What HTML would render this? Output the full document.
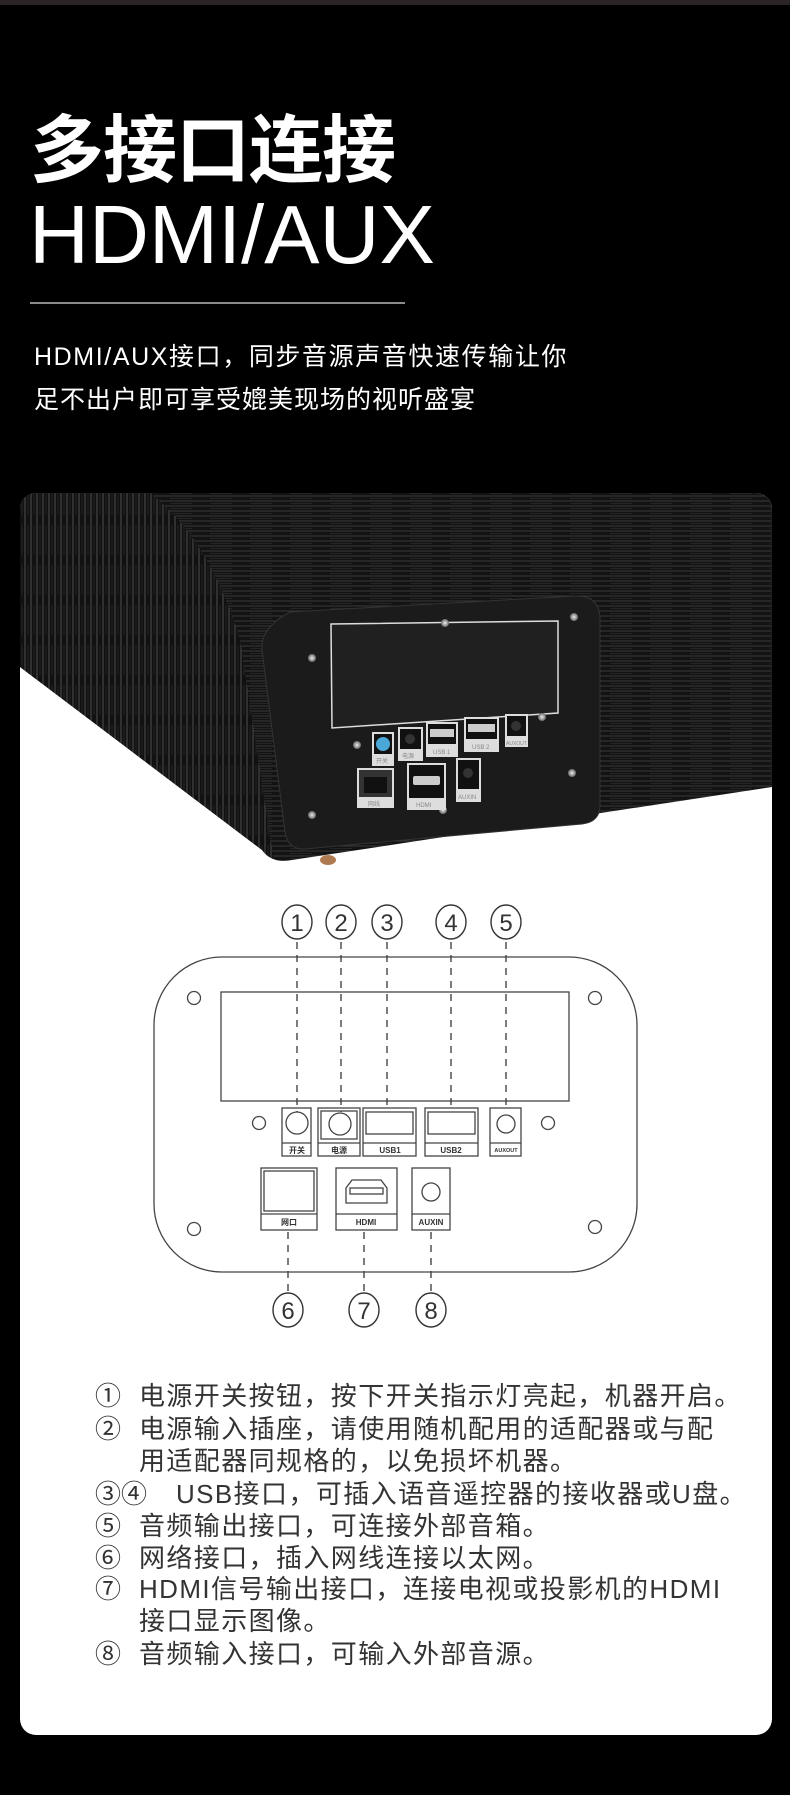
<!DOCTYPE html>
<html><head><meta charset="utf-8"><style>
html,body{margin:0;padding:0;background:#000;}
svg{display:block;}
</style></head><body>
<svg width="790" height="1795" viewBox="0 0 790 1795" xmlns="http://www.w3.org/2000/svg">
<defs>
<clipPath id="card"><rect x="20" y="493" width="752" height="1242" rx="16"/></clipPath>
<clipPath id="boxclip"><path d="M20 493 L772 493 L772 787 L292 860 Q272 864 262 850 L20 667 Z"/></clipPath>
<pattern id="hgrain" patternUnits="userSpaceOnUse" width="40" height="5">
<rect width="40" height="5" fill="#131313"/>
<line x1="0" y1="1" x2="40" y2="1" stroke="#3a3a3a" stroke-width="1"/>
<line x1="10" y1="3.5" x2="32" y2="3.5" stroke="#2a2a2a" stroke-width="0.8"/>
</pattern>
<pattern id="vgrain" patternUnits="userSpaceOnUse" width="6" height="40">
<rect width="6" height="40" fill="#111"/>
<line x1="1" y1="0" x2="1" y2="40" stroke="#444" stroke-width="1.2"/>
<line x1="4" y1="5" x2="4" y2="35" stroke="#2a2a2a" stroke-width="0.8"/>
</pattern>
<radialGradient id="screw"><stop offset="0" stop-color="#eee"/><stop offset="1" stop-color="#666"/></radialGradient>
</defs>
<rect width="790" height="1795" fill="#000"/>
<rect x="0" y="0" width="790" height="5" fill="#2a2426"/>

<text x="30" y="176" font-family="'Noto Sans CJK SC',sans-serif" font-weight="700" font-size="74" fill="#fff" letter-spacing="-1">多接口连接</text>
<text x="29" y="263" font-family="'Liberation Sans',sans-serif" font-size="83" fill="#fff">HDMI/AUX</text>
<rect x="30" y="302" width="375" height="2" fill="#8a8a8a"/>
<text x="34" y="365" font-family="'Liberation Sans','Noto Sans CJK SC',sans-serif" font-size="25" fill="#fff" letter-spacing="1.6">HDMI/AUX接口，同步音源声音快速传输让你</text>
<text x="34" y="408" font-family="'Noto Sans CJK SC',sans-serif" font-size="25" fill="#fff" letter-spacing="1">足不出户即可享受媲美现场的视听盛宴</text>

<g clip-path="url(#card)">
<rect x="20" y="493" width="752" height="1242" fill="#fff"/>
<g clip-path="url(#boxclip)">
<rect x="20" y="493" width="752" height="380" fill="url(#hgrain)"/>
<path d="M20 493 L150 493 Q210 540 240 640 L275 870 L20 870 Z" fill="url(#vgrain)"/>
</g>
<ellipse cx="328" cy="860" rx="8" ry="5" fill="#b07a50"/>
<path d="M290 612 L575 596 Q600 595 600 620 L600 805 Q600 822 582 824 L305 849 Q288 850 285 832 L262 650 Q260 628 290 612 Z" fill="#1b1b1b" stroke="#333" stroke-width="1"/>
<path d="M331 624 L558 621 L558 713 L332 728 Z" fill="#202020" stroke="#ddd" stroke-width="1.5"/>
<g fill="url(#screw)">
<circle cx="445" cy="623" r="4"/><circle cx="574" cy="617" r="4"/><circle cx="312" cy="658" r="4"/><circle cx="542" cy="717" r="4"/><circle cx="357" cy="745" r="4"/><circle cx="572" cy="773" r="4"/><circle cx="312" cy="815" r="4"/><circle cx="443" cy="810" r="4"/>
</g>
<g font-family="'Liberation Sans','Noto Sans CJK SC',sans-serif" font-size="6" fill="#888">
<rect x="372" y="732" width="22" height="34" fill="#ddd"/><rect x="374" y="734" width="18" height="20" fill="#111"/><circle cx="383" cy="744" r="7" fill="#4aa8d8"/><text x="376" y="763">开关</text>
<rect x="398" y="727" width="25" height="34" fill="#ddd"/><rect x="400" y="729" width="21" height="20" fill="#111"/><circle cx="410" cy="739" r="5" fill="#333"/><text x="402" y="758">电源</text>
<rect x="426" y="722" width="32" height="35" fill="#ddd"/><rect x="428" y="724" width="28" height="20" fill="#111"/><rect x="430" y="729" width="24" height="8" fill="#ccc"/><text x="433" y="754">USB 1</text>
<rect x="464" y="717" width="35" height="35" fill="#ddd"/><rect x="466" y="719" width="31" height="20" fill="#111"/><rect x="468" y="724" width="27" height="8" fill="#ccc"/><text x="472" y="749">USB 2</text>
<rect x="505" y="714" width="23" height="33" fill="#ddd"/><rect x="507" y="716" width="19" height="20" fill="#111"/><circle cx="516" cy="726" r="5" fill="#333"/><text x="506" y="745" font-size="5">AUXOUT</text>
<rect x="357" y="768" width="37" height="40" fill="#ddd"/><rect x="359" y="770" width="33" height="27" fill="#333"/><rect x="364" y="777" width="23" height="16" fill="#111"/><text x="368" y="806">网线</text>
<rect x="407" y="763" width="39" height="47" fill="#ddd"/><rect x="409" y="765" width="35" height="33" fill="#111"/><rect x="413" y="776" width="27" height="9" rx="2" fill="#ccc"/><text x="416" y="807">HDMI</text>
<rect x="456" y="758" width="25" height="44" fill="#ddd"/><rect x="458" y="760" width="21" height="29" fill="#111"/><circle cx="468" cy="773" r="5" fill="#333"/><text x="458" y="799">AUXIN</text>
</g>

<g fill="none" stroke="#444" stroke-width="1.3">
<rect x="154" y="957" width="483" height="315" rx="68"/>
<rect x="221" y="992" width="348" height="109"/>
<circle cx="194" cy="998" r="6.5"/><circle cx="595" cy="998" r="6.5"/><circle cx="259" cy="1123" r="6.5"/><circle cx="548" cy="1123" r="6.5"/><circle cx="194" cy="1229" r="6.5"/><circle cx="595" cy="1227" r="6.5"/>
<rect x="282" y="1108" width="29" height="48"/><line x1="282" y1="1143" x2="311" y2="1143"/><circle cx="297" cy="1123" r="11"/>
<rect x="318" y="1108" width="42" height="48"/><line x1="318" y1="1143" x2="360" y2="1143"/><rect x="321" y="1111" width="36" height="28"/><circle cx="340" cy="1124" r="11"/>
<rect x="363" y="1108" width="53" height="48"/><line x1="363" y1="1143" x2="416" y2="1143"/><rect x="366" y="1112" width="47" height="22"/>
<rect x="425" y="1108" width="53" height="48"/><line x1="425" y1="1143" x2="478" y2="1143"/><rect x="428" y="1112" width="47" height="22"/>
<rect x="490" y="1108" width="31" height="48"/><line x1="490" y1="1143" x2="521" y2="1143"/><circle cx="506" cy="1124" r="9"/>
<rect x="261" y="1168" width="56" height="62"/><line x1="261" y1="1214" x2="317" y2="1214"/><rect x="264" y="1171" width="50" height="40"/>
<rect x="336" y="1168" width="61" height="62"/><line x1="336" y1="1214" x2="397" y2="1214"/><path d="M346 1188 L352 1180 L381 1180 L387 1188 L387 1203 L346 1203 Z"/><rect x="350" y="1188" width="33" height="6"/>
<rect x="412" y="1168" width="38" height="62"/><line x1="412" y1="1214" x2="450" y2="1214"/><circle cx="431" cy="1192" r="9"/>
</g>
<g font-family="'Liberation Sans','Noto Sans CJK SC',sans-serif" font-size="8" font-weight="700" fill="#333" text-anchor="middle">
<text x="297" y="1153">开关</text><text x="339" y="1153">电源</text><text x="390" y="1153">USB1</text><text x="451" y="1153">USB2</text><text x="506" y="1152" font-size="5.5">AUXOUT</text>
<text x="289" y="1225">网口</text><text x="366" y="1225">HDMI</text><text x="431" y="1225">AUXIN</text>
</g>
<g stroke="#444" stroke-width="1.4" stroke-dasharray="7,6" fill="none">
<line x1="297" y1="942" x2="297" y2="1112"/><line x1="341" y1="942" x2="341" y2="1112"/><line x1="387" y1="942" x2="387" y2="1108"/><line x1="451" y1="942" x2="451" y2="1108"/><line x1="506" y1="942" x2="506" y2="1108"/>
<line x1="288" y1="1232" x2="288" y2="1292"/><line x1="364" y1="1232" x2="364" y2="1292"/><line x1="431" y1="1232" x2="431" y2="1292"/>
</g>
<g font-family="'Liberation Sans',sans-serif" font-size="24" fill="#333" text-anchor="middle">
<g fill="none" stroke="#333" stroke-width="1.4">
<ellipse cx="297" cy="922" rx="15" ry="17"/><ellipse cx="341" cy="922" rx="15" ry="17"/><ellipse cx="387" cy="922" rx="15" ry="17"/><ellipse cx="451" cy="922" rx="15" ry="17"/><ellipse cx="506" cy="922" rx="15" ry="17"/>
<ellipse cx="288" cy="1310" rx="15" ry="17"/><ellipse cx="364" cy="1310" rx="15" ry="17"/><ellipse cx="431" cy="1310" rx="15" ry="17"/>
</g>
<text x="297" y="931">1</text><text x="341" y="931">2</text><text x="387" y="931">3</text><text x="451" y="931">4</text><text x="506" y="931">5</text>
<text x="288" y="1319">6</text><text x="364" y="1319">7</text><text x="431" y="1319">8</text>
</g>

<g font-family="'Liberation Sans','Noto Sans CJK SC',sans-serif" font-size="26" fill="#333">
<text x="95" y="1405">①</text><text x="95" y="1438">②</text><text x="95" y="1503">③④</text><text x="95" y="1535">⑤</text><text x="95" y="1567">⑥</text><text x="95" y="1598">⑦</text><text x="95" y="1663">⑧</text>
</g>
<g font-family="'Liberation Sans','Noto Sans CJK SC',sans-serif" font-size="26" fill="#333" letter-spacing="1.4">
<text x="139" y="1405">电源开关按钮，按下开关指示灯亮起，机器开启。</text>
<text x="139" y="1438">电源输入插座，请使用随机配用的适配器或与配</text>
<text x="139" y="1470">用适配器同规格的，以免损坏机器。</text>
<text x="176" y="1503">USB接口，可插入语音遥控器的接收器或U盘。</text>
<text x="139" y="1535">音频输出接口，可连接外部音箱。</text>
<text x="139" y="1567">网络接口，插入网线连接以太网。</text>
<text x="139" y="1598">HDMI信号输出接口，连接电视或投影机的HDMI</text>
<text x="139" y="1630">接口显示图像。</text>
<text x="139" y="1663">音频输入接口，可输入外部音源。</text>
</g>
</g>
</svg>
</body></html>
